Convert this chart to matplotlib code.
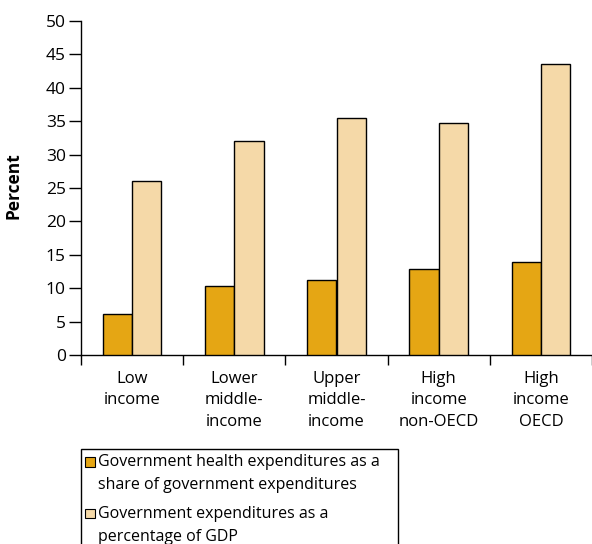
import matplotlib
matplotlib.use("Agg")
import matplotlib.pyplot as plt
from matplotlib.patches import Rectangle
import numpy as np

plt.rcParams['font.family'] = ['Open Sans', 'DejaVu Sans']

categories = ["Low\nincome", "Lower\nmiddle-\nincome", "Upper\nmiddle-\nincome",
              "High\nincome\nnon-OECD", "High\nincome\nOECD"]
health_share = [6.1, 10.4, 11.2, 12.9, 13.9]
gov_exp_gdp = [26.1, 32.0, 35.5, 34.7, 43.6]
series_labels = ["Government health expenditures as a\nshare of government expenditures",
                 "Government expenditures as a\npercentage of GDP"]
series_colors = ["#E5A614", "#F5D9A8"]
yticks = [0, 5, 10, 15, 20, 25, 30, 35, 40, 45, 50]

W, H = 592, 544
fig = plt.figure(figsize=(W / 100, H / 100), dpi=100)
ax = fig.add_axes([81 / W, (H - 355) / H, (W - 81) / W, (355 - 21) / H])

x = np.arange(len(categories))
bw = 0.287
ax.bar(x - bw / 2, health_share, bw, color=series_colors[0], edgecolor="black", linewidth=1.0, zorder=3)
ax.bar(x + bw / 2, gov_exp_gdp, bw, color=series_colors[1], edgecolor="black", linewidth=1.0, zorder=3)

ax.set_xlim(-0.5, len(categories) - 0.5)
ax.set_ylim(0, 50)
ax.set_yticks(yticks)
ax.tick_params(axis="y", direction="out", length=9, width=1, pad=2, labelsize=12.5, colors="black")
ax.set_xticks(x)
ax.set_xticklabels(categories, fontsize=12, linespacing=1.45)
ax.tick_params(axis="x", which="major", length=0, pad=11.5)
ax.set_xticks(np.arange(-0.5, len(categories), 1.0), minor=True)
ax.tick_params(axis="x", which="minor", direction="out", length=7.5, width=1)

for s in ["top", "right"]:
    ax.spines[s].set_visible(False)
for s in ["left", "bottom"]:
    ax.spines[s].set_linewidth(1.0)

ax.set_ylabel("Percent", fontsize=12.5, fontweight="bold")
ax.yaxis.set_label_coords((23 - 81) / (W - 81), (355 - 186) / 334)

# legend box in pixel coordinates, running off the bottom edge
def px(xp, yp):
    return xp / W, (H - yp) / H

bx0, by0 = px(81, 449)
box = Rectangle((bx0, -0.02), (398 - 81) / W, by0 + 0.02, transform=fig.transFigure,
                fill=False, edgecolor="black", linewidth=1.0, clip_on=False)
fig.add_artist(box)

first_baselines = [466.5, 518.3]
line_step = 22.3
for base, lab, col in zip(first_baselines, series_labels, series_colors):
    mx, my = px(85, base)
    fig.add_artist(Rectangle((mx, my), 9.5 / W, 9.5 / H, transform=fig.transFigure,
                             facecolor=col, edgecolor="black", linewidth=0.8))
    for i, line in enumerate(lab.split("\n")):
        tx, ty = px(98.5, base + i * line_step)
        fig.text(tx, ty, line, fontsize=11.5, va="baseline", ha="left")

fig.savefig("out.png", dpi=100)
